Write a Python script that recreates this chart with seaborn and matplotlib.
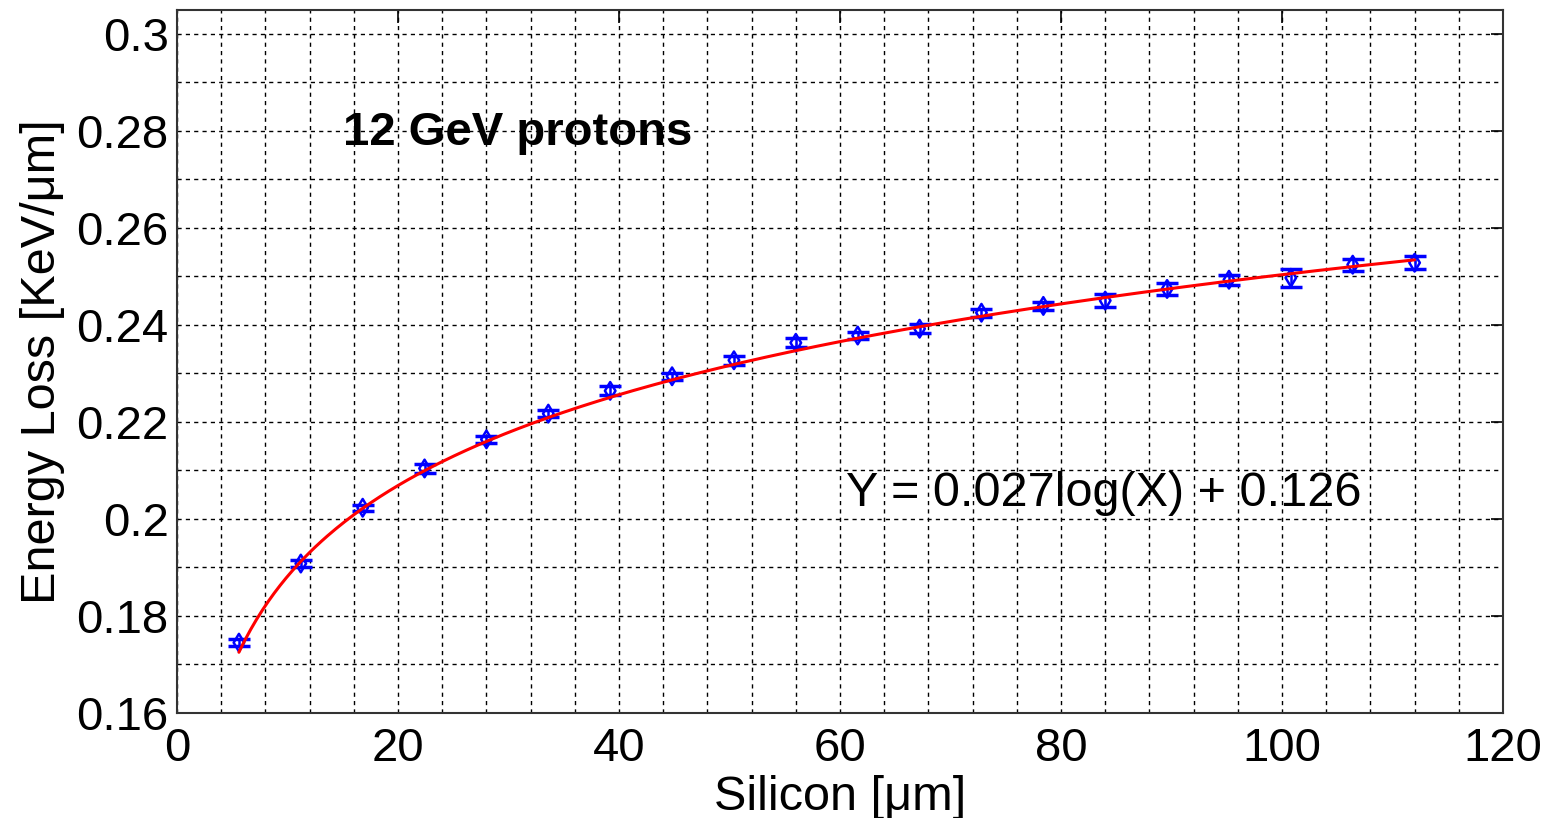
import numpy as np
import pandas as pd
import matplotlib
matplotlib.use("Agg")
import matplotlib.pyplot as plt
from matplotlib.ticker import MultipleLocator, FuncFormatter
import seaborn as sns

# Silicon thickness [um] and measured mean energy loss [KeV/um]
thickness = [5.6, 11.2, 16.8, 22.4, 28.0, 33.6, 39.2, 44.8, 50.4, 56.0,
             61.6, 67.2, 72.8, 78.4, 84.0, 89.6, 95.2, 100.8, 106.4, 112.0]
energy_loss = [0.1745, 0.1908, 0.2023, 0.2104, 0.2164, 0.2217, 0.2264, 0.2294,
               0.2327, 0.2363, 0.2378, 0.2392, 0.2425, 0.2439, 0.2450, 0.2474,
               0.2493, 0.2497, 0.2524, 0.2528]
energy_err = [0.0007, 0.00075, 0.00065, 0.0009, 0.00075, 0.00075, 0.0009, 0.0007,
              0.0009, 0.0009, 0.0008, 0.0009, 0.0008, 0.0009, 0.0014, 0.0012,
              0.0010, 0.0018, 0.0012, 0.0013]

# Logarithmic fit coefficients: Y = a*log(X) + b
fit_slope = 0.027
fit_intercept = 0.126

x_ticks = [0, 20, 40, 60, 80, 100, 120]
y_ticks = [0.16, 0.18, 0.20, 0.22, 0.24, 0.26, 0.28, 0.30]

sns.set_theme(style="white")
plt.rcParams["font.family"] = ["Liberation Sans", "DejaVu Sans"]
plt.rcParams["text.color"] = "black"
plt.rcParams["axes.labelcolor"] = "black"

data = pd.DataFrame({"thickness": thickness, "loss": energy_loss, "err": energy_err})
x_fit = np.linspace(min(thickness), max(thickness), 400)
fit = pd.DataFrame({"x": x_fit, "y": fit_slope * np.log(x_fit) + fit_intercept})

fig = plt.figure(figsize=(15.49, 8.18), dpi=100)
ax = fig.add_axes([0.1143, 0.1284, 0.9703 - 0.1143, 0.9878 - 0.1284])

# dashed grid every 4 um and every 0.01 KeV/um
ax.xaxis.set_minor_locator(MultipleLocator(4))
ax.yaxis.set_minor_locator(MultipleLocator(0.01))
ax.grid(which="both", color="black", linestyle=(0, (3, 3)), linewidth=1.0)
ax.set_axisbelow(True)

ax.errorbar(data["thickness"], data["loss"], yerr=data["err"], fmt="none",
            ecolor="#0000ff", elinewidth=1.8, capsize=8, capthick=2.5, zorder=3)
sns.scatterplot(data=data, x="thickness", y="loss", ax=ax, marker="d", s=80,
                facecolor="none", edgecolor="#0000ff", linewidth=1.8, zorder=4)
sns.lineplot(data=fit, x="x", y="y", ax=ax, color="#ff0000", linewidth=2.2, zorder=5)

ax.set_xlim(0, 120)
ax.set_ylim(0.16, 0.3049)
ax.set_xticks(x_ticks)
ax.set_yticks(y_ticks)
ax.yaxis.set_major_formatter(FuncFormatter(lambda v, p: f"{v:g}"))
ax.tick_params(axis="both", which="major", direction="in", length=9, width=1.2,
               labelsize=34, colors="black", top=True, right=True, pad=6)
ax.tick_params(axis="x", which="major", pad=10)
ax.tick_params(which="minor", length=0)
for sp in ax.spines.values():
    sp.set_color("#333333")
    sp.set_linewidth(1.5)

ax.set_xlabel("Silicon [μm]", fontsize=35, labelpad=3)
ax.set_ylabel("Energy Loss [KeV/μm]", fontsize=35, labelpad=8)

ax.text(15, 0.2795, "12 GeV protons", fontsize=34, fontweight="bold",
        ha="left", va="center")
ax.text(60.5, 0.2053, f"Y = {fit_slope:g}log(X) + {fit_intercept:g}",
        fontsize=35, ha="left", va="center")

fig.savefig("out.png", dpi=100, facecolor="white")
